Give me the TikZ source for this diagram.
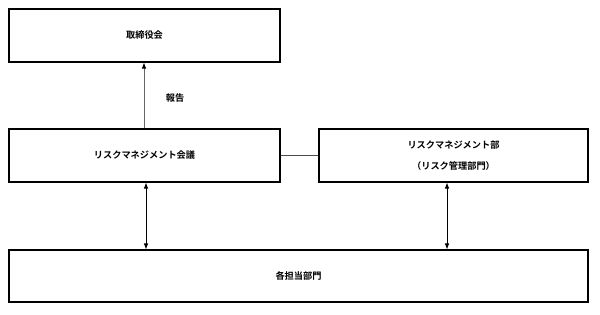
\documentclass[tikz,border=0pt]{standalone}
\usepackage{fontspec}
\setmainfont{Noto Sans CJK JP}[BoldFont={* Bold}]
\usetikzlibrary{arrows.meta}
\begin{document}
\begin{tikzpicture}[x=1pt,y=-1pt,
  box/.style={draw=black,line width=1.1pt,font=\bfseries\fontsize{9.2}{21}\selectfont,align=center,inner sep=0pt},
  conn/.style={line width=0.7pt},
  tip/.style={-{Latex[length=6pt,width=4.5pt,color=black]}},
  bitip/.style={{Latex[length=6pt,width=4.5pt]}-{Latex[length=6pt,width=4.5pt]}}]
\useasboundingbox (0,0) rectangle (600,314);
\node[box,minimum width=271pt,minimum height=53pt] (board) at (144.5,35.5) {取締役会};
\node[box,minimum width=271pt,minimum height=53pt] (council) at (144.5,155.5) {リスクマネジメント会議};
\node[box,minimum width=269pt,minimum height=53pt] (dept) at (453.5,155.5) {リスクマネジメント部\\（リスク管理部門）};
\node[box,minimum width=579pt,minimum height=52pt] (all) at (298.5,276) {各担当部門};
\coordinate (c1) at (144,129);
\draw[conn,tip,draw=gray!80!black] (council.north -| c1) -- (board.south -| c1);
\node[font=\bfseries\fontsize{9.2}{11}\selectfont] (rep) at (175,98) {報告};
\draw[conn,draw=black!70] (council.east) -- (dept.west);
\coordinate (a1) at (146,0);
\coordinate (a2) at (447,0);
\draw[conn,bitip] (council.south -| a1) -- (all.north -| a1);
\draw[conn,bitip] (dept.south -| a2) -- (all.north -| a2);
\end{tikzpicture}
\end{document}
